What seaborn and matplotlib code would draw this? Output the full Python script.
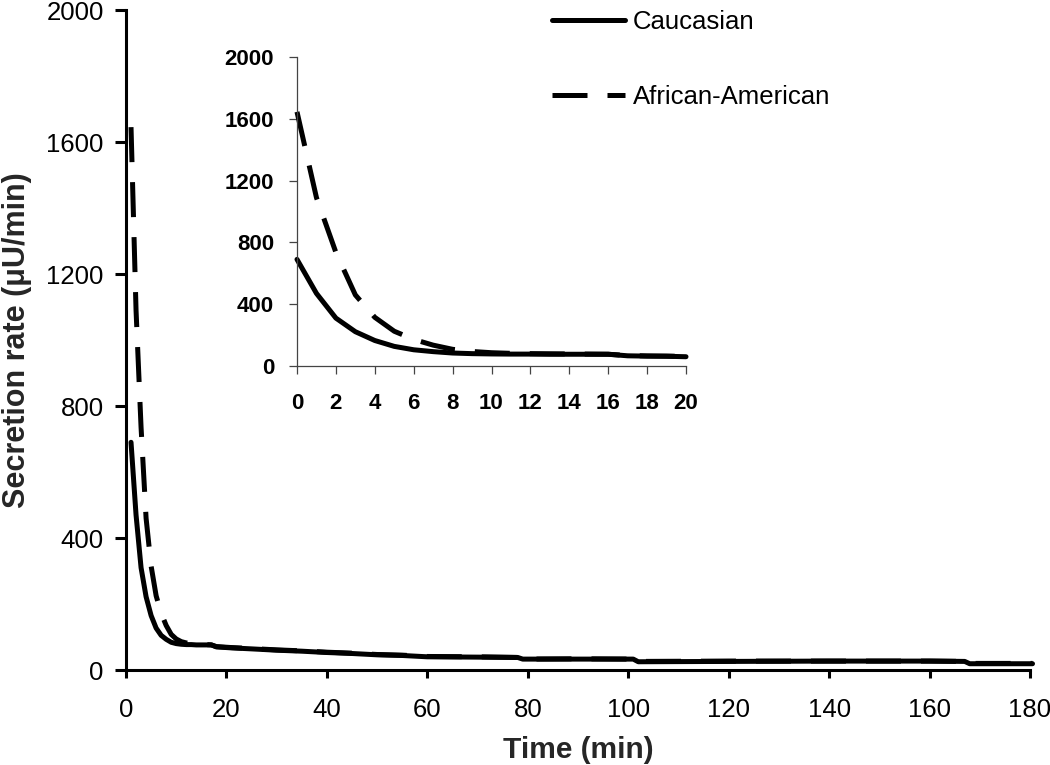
import matplotlib
matplotlib.use("Agg")
import matplotlib.pyplot as plt
import seaborn as sns
import pandas as pd

# ---- data ----
# inset: minutes 0..20
inset_minutes = [0, 1, 2, 3, 4, 5, 6, 7, 8, 9, 10, 11, 12, 13, 14, 15, 16, 17, 18, 19, 20]
inset_caucasian = [690, 470, 310, 222, 165, 127, 105, 93, 84, 80, 78, 77, 77, 76, 76, 76, 76, 66, 64, 63, 60]
inset_african = [1645, 1090, 735, 460, 315, 225, 172, 135, 108, 94, 86, 82, 80, 79, 78, 77, 76, 68, 65, 64, 62]

# main chart: time axis of the full record
main_time = [1, 2, 3, 4, 5, 6, 7, 8, 9, 10, 11, 12, 13, 14, 15, 16, 17, 18, 19, 20, 21,
             25, 30, 35, 40, 45, 50, 55, 60, 70, 78, 79, 90, 101, 102, 120, 140, 160, 167, 168, 180.5]
main_caucasian = [690, 470, 310, 222, 165, 127, 105, 93, 84, 80, 78, 77, 77, 76, 76, 76, 76, 70, 69, 68, 67,
                  64, 60, 57, 53, 50, 46, 44, 40, 39, 38, 33, 33, 33, 25, 26, 27, 27, 26, 19, 19]
main_african = [1645, 1090, 735, 460, 315, 225, 172, 135, 108, 94, 86, 82, 80, 79, 78, 77, 76, 71, 70, 69, 68,
                65, 61, 58, 54, 51, 47, 45, 41, 40, 38, 33, 34, 33, 26, 27, 27, 27, 26, 20, 20]

series_names = ["Caucasian", "African-American"]
main_xticks = [0, 20, 40, 60, 80, 100, 120, 140, 160, 180]
yticks = [0, 400, 800, 1200, 1600, 2000]
inset_xticks = [0, 2, 4, 6, 8, 10, 12, 14, 16, 18, 20]

sns.set_theme(style="ticks")
plt.rcParams["font.family"] = ["Liberation Sans", "DejaVu Sans"]

W, H = 1050, 765
fig = plt.figure(figsize=(W / 100, H / 100), dpi=100)
ax = fig.add_axes([126 / W, 1 - 670 / H, (1030 - 126) / W, (670 - 10) / H])

dash = (0, (7, 4))
lw = 3.6

sns.lineplot(x=main_time, y=main_caucasian, ax=ax, color="black", linewidth=lw,
             errorbar=None, label=series_names[0], clip_on=False)
sns.lineplot(x=main_time, y=main_african, ax=ax, color="black", linewidth=lw,
             linestyle=dash, errorbar=None, label=series_names[1], clip_on=False)

ax.set_xlim(0, 180)
ax.set_ylim(0, 2000)
ax.set_xticks(main_xticks)
ax.set_yticks(yticks)
for s in ["top", "right"]:
    ax.spines[s].set_visible(False)
for s in ["left", "bottom"]:
    ax.spines[s].set_linewidth(2.2)
    ax.spines[s].set_color("black")
ax.tick_params(axis="y", length=8, width=2.2, pad=8, labelsize=18.5, colors="black")
ax.tick_params(axis="x", length=6, width=2.2, pad=14, labelsize=18.5, colors="black")
ax.set_xlabel("Time (min)", fontsize=21.5, fontweight="bold", labelpad=10)
ax.set_ylabel("Secretion rate (μU/min)", fontsize=22, fontweight="bold")
ax.yaxis.set_label_coords(-0.104, 0.5)

leg = ax.legend(loc="upper left", bbox_to_anchor=(552 / W, 1 - 10 / H),
                bbox_transform=fig.transFigure, frameon=False, fontsize=18.5,
                handlelength=2.84, handletextpad=0.31, labelspacing=2.0,
                borderaxespad=0, borderpad=0)
for t in leg.get_texts():
    t.set_color("black")

# ---- inset ----
ins = fig.add_axes([297 / W, 1 - 366 / H, (686 - 297) / W, (366 - 57) / H])
ins.set_facecolor("none")
sns.lineplot(x=inset_minutes, y=inset_caucasian, ax=ins, color="black", linewidth=lw,
             errorbar=None, legend=False, clip_on=False)
sns.lineplot(x=inset_minutes, y=inset_african, ax=ins, color="black", linewidth=lw,
             linestyle=dash, errorbar=None, legend=False, clip_on=False)
ins.set_xlim(0, 20)
ins.set_ylim(0, 2000)
ins.set_xticks(inset_xticks)
ins.set_yticks(yticks)
for s in ["top", "right"]:
    ins.spines[s].set_visible(False)
for s in ["left", "bottom"]:
    ins.spines[s].set_linewidth(0.9)
    ins.spines[s].set_color("#444444")
ins.tick_params(axis="both", length=5.5, width=0.9, color="#444444", labelcolor="black",
                labelsize=16)
ins.tick_params(axis="y", pad=11)
ins.tick_params(axis="x", pad=14)
for lab in ins.get_xticklabels() + ins.get_yticklabels():
    lab.set_fontweight("bold")
ins.set_xlabel("")
ins.set_ylabel("")

fig.savefig("out.png", dpi=100)
